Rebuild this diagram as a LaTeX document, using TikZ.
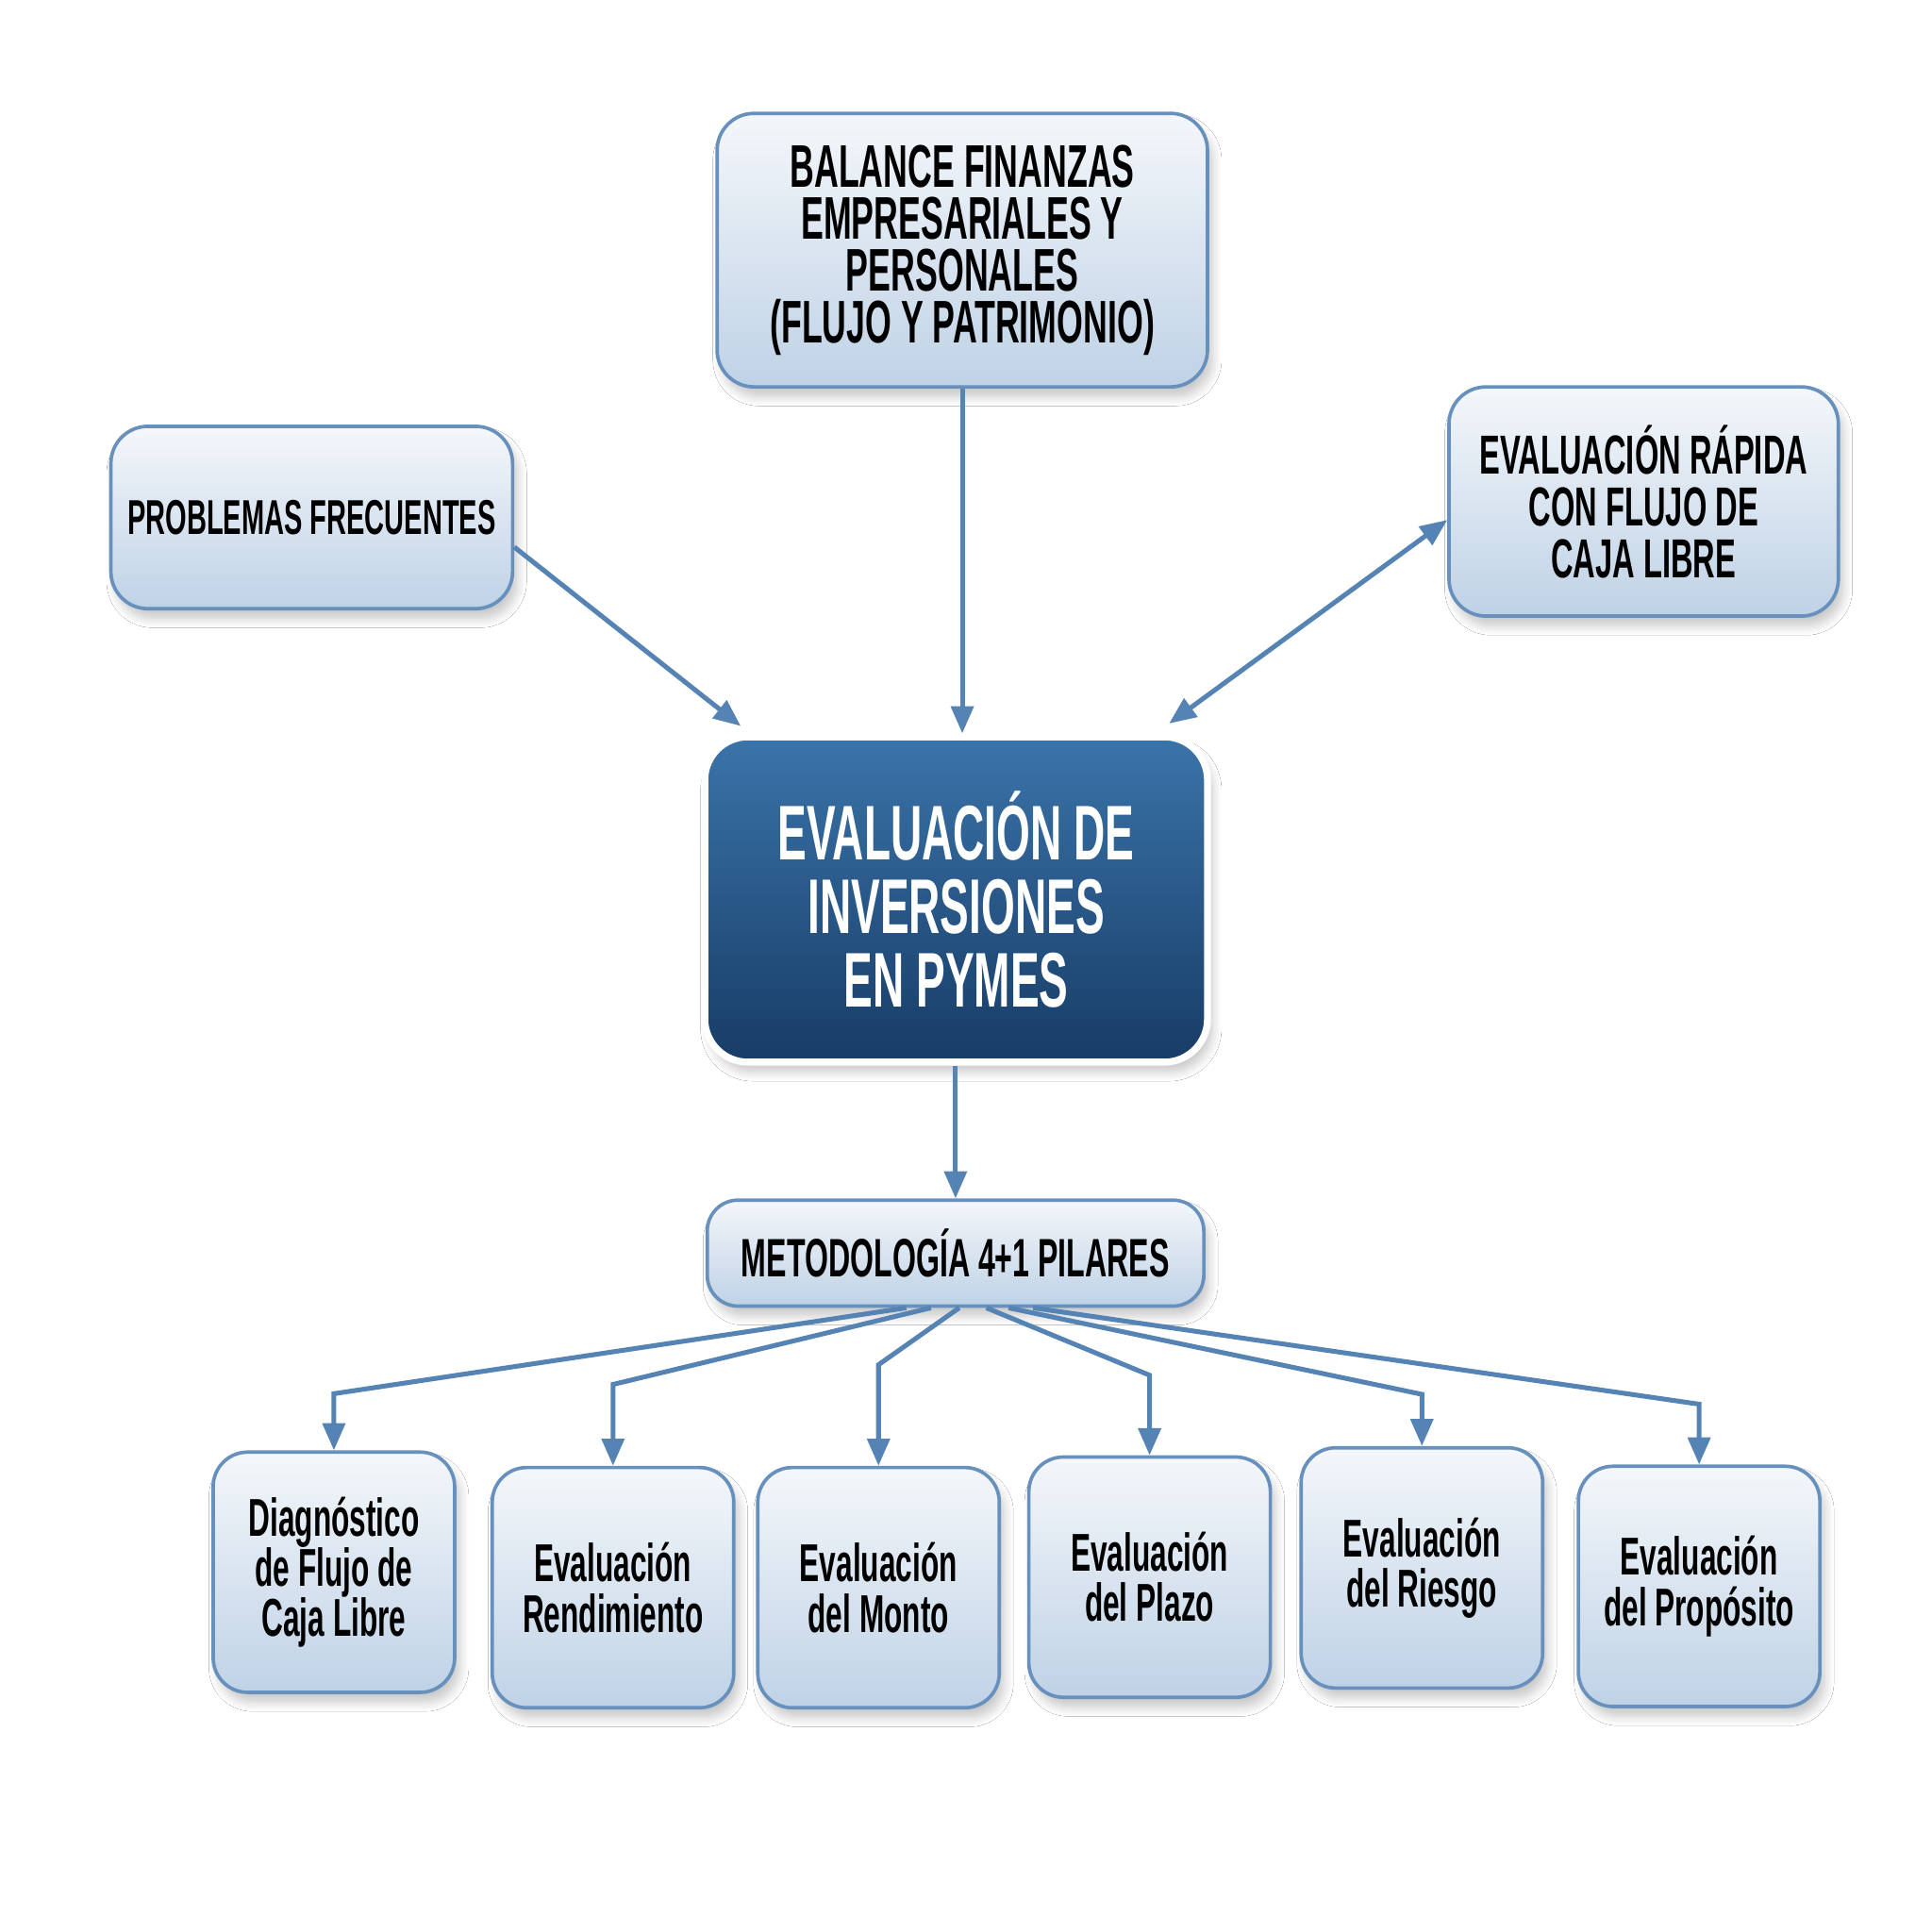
\documentclass[tikz,border=0pt]{standalone}
\usepackage{fontspec}
\setmainfont{Liberation Sans}[FakeStretch=0.56]
\usetikzlibrary{arrows.meta,calc,shadows.blur}
\definecolor{linea}{HTML}{5584B4}
\definecolor{borde}{HTML}{6790BD}
\definecolor{cajaarriba}{HTML}{F4F7FA}
\definecolor{cajaabajo}{HTML}{BFD2E6}
\definecolor{centroarriba}{HTML}{3B74AA}
\definecolor{centroabajo}{HTML}{173C66}
\tikzset{
	>={Triangle[length=2.2mm,width=1.8mm]},
	sombra/.style={blur shadow={shadow xshift=0.4mm,shadow yshift=-0.8mm,shadow blur steps=8,shadow opacity=22}},
	caja/.style={draw=borde,line width=0.8pt,rounded corners=3mm,top color=cajaarriba,bottom color=cajaabajo,align=center,inner sep=0pt,sombra},
	pilar/.style={caja,rounded corners=2.8mm,minimum width=19.6mm,minimum height=19.5mm,font=\bfseries\fontsize{12.3}{11.6}\selectfont},
	flecha/.style={draw=linea,line width=1.1pt,->},
}
\begin{document}
\begin{tikzpicture}[x=0.1mm,y=-0.1mm]
	\lineskiplimit=-10pt
	\useasboundingbox[fill=white] (0,0) rectangle (1568,1568);
	\node[caja,minimum width=39.8mm,minimum height=22.2mm,font=\bfseries\fontsize{13.9}{11.95}\selectfont] (balance) at (781,203) {BALANCE FINANZAS\\EMPRESARIALES Y\\PERSONALES\\(FLUJO Y PATRIMONIO)};
	\node[caja,minimum width=32.6mm,minimum height=14.8mm,font=\bfseries\fontsize{11.3}{11}\selectfont] (problemas) at (253,420) {PROBLEMAS FRECUENTES};
	\node[caja,minimum width=31.6mm,minimum height=18.6mm,font=\bfseries\fontsize{12.7}{11.95}\selectfont] (rapida) at (1334,407) {EVALUACIÓN RÁPIDA\\CON FLUJO DE\\CAJA LIBRE};
	\node[draw=white,line width=1.6pt,rounded corners=3.5mm,top color=centroarriba,bottom color=centroabajo,minimum width=40.8mm,minimum height=26.4mm,align=center,inner sep=0pt,sombra,text=white,font=\bfseries\fontsize{17.9}{17.07}\selectfont] (centro) at (776,730) {EVALUACIÓN DE\\INVERSIONES\\EN PYMES};
	\node[caja,rounded corners=2.5mm,minimum width=40.3mm,minimum height=8.6mm,font=\bfseries\fontsize{12.5}{12}\selectfont] (metodo) at (775.5,1017) {METODOLOGÍA 4+1 PILARES};
	\draw[flecha] (balance.south) -- (centro.north -| balance.south);
	\draw[flecha] ($(problemas.east)+(0,24)$) -- ($(centro.north west)+(32,-6)$);
	\draw[flecha,<->] ($(centro.north east)+(-34,-8)$) -- ($(rapida.west)+(0,15)$);
	\draw[flecha] (centro.south -| metodo.north) -- (metodo.north);
	\foreach \cx/\cy/\sx/\up/\t[count=\i] in {
			271/1276/-40/46/Diagnóstico\\de Flujo de\\Caja Libre,
			497.5/1288.5/-20/66/Evaluación\\Rendimiento,
			713/1288.5/3/82/Evaluación\\del Monto,
			933/1280/25/65/Evaluación\\del Plazo,
			1154/1272.5/43/42/Evaluación\\del Riesgo,
			1379/1287.5/63/49/Evaluación\\del Propósito
		}{
		\node[pilar] (p\i) at (\cx,\cy) {\t};
		\coordinate (s\i) at ($(metodo.south)+(\sx,0)$);
		\coordinate (q\i) at ($(p\i.north)+(0,-\up)$);
		\draw[flecha] (s\i) -- (q\i) -- (p\i.north);
	}
\end{tikzpicture}
\end{document}
